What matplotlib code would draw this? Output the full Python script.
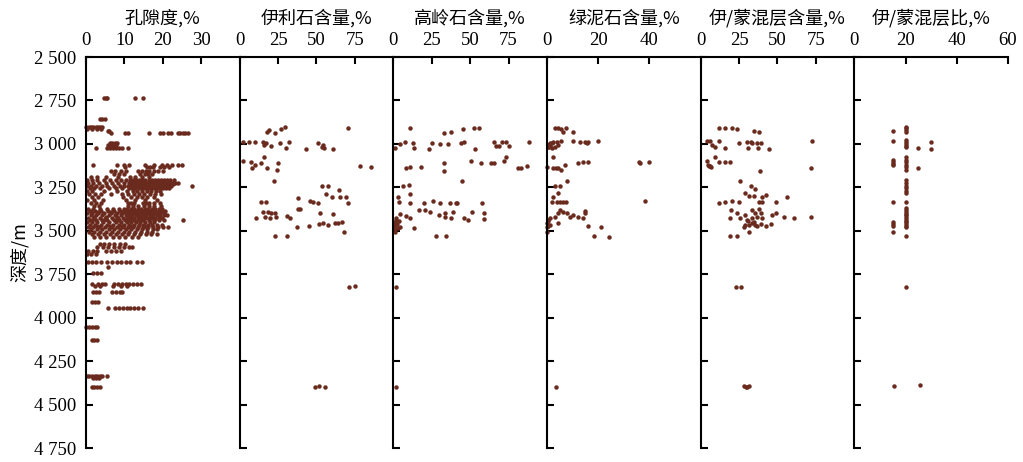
import matplotlib.pyplot as plt
from matplotlib.ticker import FuncFormatter

plt.rcParams['font.family'] = ['Liberation Serif', 'DejaVu Serif']

titles = ['孔隙度,%', '伊利石含量,%', '高岭石含量,%', '绿泥石含量,%', '伊/蒙混层含量,%', '伊/蒙混层比,%']
x_max = [40, 100, 100, 60, 100, 60]
x_ticks = [[0, 10, 20, 30], [0, 25, 50, 75], [0, 25, 50, 75], [0, 20, 40], [0, 25, 50, 75], [0, 20, 40, 60]]
depth_ticks = [2500, 2750, 3000, 3250, 3500, 3750, 4000, 4250, 4500, 4750]

# porosity: one row per depth (m) with the porosity readings (%) at that depth
por_rows = [
    (2735, [4.6, 5.1, 5.6, 12.8, 14.9]),
    (2855, [3.7, 4.3, 4.9]),
    (2905, [0.1, 0.7, 1.3, 1.9, 2.5, 3.1, 3.7, 4.2]),
    (2915, [0.3, 1.6, 2.9, 3.9]),
    (2925, [5.7, 6.1]),
    (2935, [6.6, 10.1, 10.9, 16.5, 19.4, 20.1, 21.4, 22.2, 23.9, 24.5, 25.2, 25.9, 26.6]),
    (2992, [6.3, 6.9, 7.6, 8.2]),
    (3005, [5.8, 6.5, 7.3, 7.9]),
    (3022, [2.5, 5.6, 6.3, 7.0, 7.7, 8.6, 9.5, 10.9]),
    (3120, [1.8, 8.0, 9.8, 11.2, 15.3, 17.6, 19.9, 21.0, 22.4, 24.0, 25.1]),
    (3135, [10.2, 15.8, 16.6, 17.5, 19.3, 20.2, 21.6]),
    (3155, [6.4, 7.6, 9.0, 10.3, 13.6, 14.5, 15.6, 16.5, 17.6, 18.8, 20.0]),
    (3172, [7.2, 8.6, 9.8, 14.1, 15.3, 16.2, 17.2]),
    (3190, [1.2, 3.0, 5.2, 8.4, 11.6, 12.8, 14.6, 16.4]),
    (3210, [0.3, 1.5, 2.8, 4.6, 6.2, 7.8, 9.2, 10.5, 11.5, 12.3, 13.1, 13.9, 14.7, 15.5, 16.3, 17.1, 17.9, 18.7, 19.5, 20.3, 21.1, 21.9, 22.8]),
    (3218, [11.9, 13.5, 15.1, 16.7, 18.3, 19.9, 21.5]),
    (3225, [0.6, 1.9, 3.4, 5.1, 6.8, 8.4, 9.9, 11.1, 11.9, 12.7, 13.5, 14.3, 15.1, 15.9, 16.7, 17.5, 18.3, 19.1, 19.9, 20.7, 21.5, 22.3, 23.2, 24.0]),
    (3232, [11.5, 13.1, 14.7, 16.3, 17.9, 19.5, 21.1, 22.7]),
    (3240, [0.2, 1.3, 2.5, 4.2, 5.6, 7.3, 8.8, 10.0, 10.9, 11.7, 12.5, 13.3, 14.1, 14.9, 15.7, 16.5, 17.3, 18.1, 18.9, 19.7, 20.5, 21.3, 22.1, 27.6]),
    (3248, [12.1, 13.7, 15.3, 16.9, 18.5, 20.1]),
    (3255, [1.0, 2.2, 3.6, 6.1, 7.9, 9.4, 11.3, 12.1, 12.9, 13.7, 14.5, 15.3, 16.1, 16.9, 17.7, 18.5, 19.3, 20.1, 20.9, 21.7]),
    (3270, [0.4, 1.7, 4.7, 8.1, 10.6, 12.2, 13.4, 14.6, 15.8, 17.0, 18.2, 19.4]),
    (3290, [0.9, 2.3, 3.9, 6.6, 9.5, 11.0, 12.4, 13.9, 15.2, 16.6, 18.0, 19.6]),
    (3305, [1.5, 3.1, 9.7, 11.8, 13.2, 14.7, 16.0, 17.6]),
    (3322, [0.3, 2.0, 4.4, 10.4, 12.7, 15.5, 18.4]),
    (3340, [1.3, 2.6, 3.9, 11.0, 11.8, 12.6, 14.8, 15.6, 16.4, 17.8, 19.2]),
    (3355, [2.2, 3.5, 10.9, 12.2, 13.6, 15.0, 16.3, 17.7, 19.6]),
    (3372, [0.5, 1.8, 3.6, 5.4, 7.0, 8.5, 9.8, 10.8, 11.7, 12.6, 13.5, 14.4, 15.3, 16.2, 17.1, 18.0, 18.9, 19.8]),
    (3385, [1.0, 2.4, 4.0, 5.7, 7.3, 8.8, 10.0, 10.9, 11.8, 12.7, 13.6, 14.5, 15.4, 16.3, 17.2, 18.1, 19.0, 19.9, 20.5]),
    (3392, [3.1, 6.5, 9.4, 12.3, 15.0, 17.7]),
    (3398, [0.4, 1.6, 3.2, 4.8, 6.4, 8.0, 9.3, 10.4, 11.3, 12.2, 13.1, 14.0, 14.9, 15.8, 16.7, 17.6, 18.5, 19.4, 20.3]),
    (3412, [1.2, 2.7, 4.3, 5.9, 7.5, 9.0, 10.3, 11.2, 12.1, 13.0, 13.9, 14.8, 15.7, 16.6, 17.5, 18.4, 19.3, 20.2, 21.0]),
    (3418, [2.0, 5.1, 8.2, 11.6, 14.3, 17.0]),
    (3425, [0.6, 2.0, 3.6, 5.2, 6.8, 8.3, 9.7, 10.8, 11.7, 12.6, 13.5, 14.4, 15.3, 16.2, 17.1, 18.0, 18.9, 19.8]),
    (3432, [1.8, 4.9, 8.0, 11.5, 14.6, 17.9]),
    (3440, [1.1, 2.5, 4.1, 5.6, 7.2, 8.7, 10.1, 11.2, 12.4, 13.6, 14.9, 16.3, 17.6, 19.0, 20.4, 25.3]),
    (3452, [0.3, 1.5, 2.9, 4.5, 6.1, 7.7, 9.2, 10.6, 11.8, 13.0, 14.2, 15.4, 16.6, 17.8]),
    (3465, [1.0, 2.3, 3.8, 5.4, 7.0, 8.6, 10.0, 11.3, 12.5, 13.7, 14.9, 16.1, 17.3, 18.5, 19.7]),
    (3472, [3.0, 6.2, 9.3, 12.0, 15.5]),
    (3478, [0.5, 1.9, 3.4, 4.9, 6.5, 8.1, 9.6, 11.0, 12.3, 13.6, 14.9, 16.2, 17.5, 18.8, 20.1, 21.3]),
    (3492, [1.3, 2.8, 4.3, 5.9, 7.4, 8.9, 10.4, 11.8, 13.2, 14.6, 16.0, 17.4, 18.6]),
    (3505, [0.8, 2.2, 3.7, 5.2, 6.7, 8.3, 9.8, 11.3, 12.8, 14.3, 15.8, 17.2]),
    (3520, [1.6, 3.1, 4.6, 6.2, 7.8, 9.4, 11.0, 12.5, 14.1, 15.6, 17.0, 18.4]),
    (3535, [2.0, 3.6, 5.3, 7.0, 8.6, 10.2, 11.9, 13.5]),
    (3575, [3.7, 4.8, 6.0, 7.4, 8.8, 10.1]),
    (3595, [3.0, 4.4, 5.8, 7.2, 8.5, 9.8, 11.1, 12.0]),
    (3615, [0.6, 1.8, 3.0, 5.3, 6.6, 7.9, 9.2]),
    (3635, [0.2, 1.4, 2.6]),
    (3682, [0.5, 1.5, 2.6, 3.8, 5.6, 6.8, 8.0, 9.2, 10.4, 11.6, 13.4, 14.6]),
    (3710, [5.7]),
    (3745, [1.8, 2.8, 3.9]),
    (3805, [1.6, 3.2, 4.1, 4.9, 7.3, 8.3, 9.3, 10.3, 11.3, 12.3, 13.3, 14.4]),
    (3820, [2.4, 3.6, 7.0, 9.0, 10.6]),
    (3855, [1.8, 2.7, 3.5, 6.8, 7.9, 8.9, 9.4]),
    (3912, [1.6, 2.3, 3.1]),
    (3945, [5.7, 7.6, 8.6, 9.6, 10.6, 11.6, 12.6, 13.6, 14.8]),
    (4055, [0.1, 0.8, 1.5, 2.3, 2.8]),
    (4130, [1.5, 2.2, 2.8]),
    (4335, [0.2, 0.9, 1.6, 2.3, 3.0, 3.6, 4.1, 5.4]),
    (4345, [1.8, 2.6, 3.4]),
    (4400, [1.5, 2.2, 2.9, 3.6]),
]
por_d = [d for d, vals in por_rows for v in vals]
por_v = [v for d, vals in por_rows for v in vals]

# illite content
ill = [(2920, 19.0), (2933, 18.0), (2935, 22.9), (2916, 27.2), (2905, 29.4), (2910, 70.4),
       (2987, 2.2), (2987, 6.1), (2987, 9.8), (2987, 15.2), (2993, 17.4), (3006, 15.9), (3012, 20.3),
       (2993, 26.1), (2987, 32.2), (3022, 30.1), (3031, 43.1), (2993, 51.2), (3006, 54.0), (3025, 54.9),
       (3016, 53.4), (3031, 61.0), (3099, 2.2), (3103, 7.6), (3122, 9.8), (3137, 8.3), (3112, 14.2),
       (3074, 15.9), (3141, 18.1), (3112, 25.0), (3150, 24.6), (3127, 78.4), (3135, 85.6), (3214, 22.4),
       (3242, 53.4), (3242, 57.3), (3288, 56.0), (3304, 59.9), (3265, 64.7), (3304, 65.4), (3304, 69.3),
       (3338, 70.8), (3310, 38.1), (3336, 14.2), (3336, 17.4), (3329, 45.8), (3333, 47.9), (3338, 51.2),
       (3376, 38.1), (3376, 39.2), (3394, 15.2), (3390, 18.5), (3400, 20.7), (3400, 22.9), (3419, 16.3),
       (3428, 19.6), (3422, 23.9), (3428, 10.5), (3415, 30.6), (3428, 32.7), (3400, 52.3), (3405, 61.0),
       (3461, 51.8), (3457, 54.0), (3467, 57.7), (3453, 62.1), (3457, 64.3), (3450, 66.4), (3505, 68.2),
       (3480, 37.4), (3473, 45.1), (3530, 22.9), (3530, 30.6), (3822, 70.9), (3820, 75.2),
       (4397, 49.0), (4392, 51.6), (4397, 55.6)]

# kaolinite content
kao = [(2910, 11.1), (2935, 32.9), (2930, 37.7), (2916, 45.5), (2910, 52.5), (2910, 55.8),
       (3025, 0.9), (3001, 4.6), (2987, 7.8), (2993, 12.9), (3025, 13.3), (3031, 23.1), (2993, 25.3),
       (3002, 30.7), (3002, 35.8), (2993, 43.8), (2989, 46.0), (3031, 52.9), (2987, 65.6), (3012, 66.7),
       (3012, 68.8), (2987, 71.0), (2987, 73.2), (3012, 75.4), (2987, 88.4),
       (3137, 8.5), (3131, 11.1), (3131, 18.3), (3108, 32.9), (3156, 32.9), (3099, 50.3), (3112, 57.3),
       (3108, 63.4), (3108, 65.6), (3099, 72.1), (3077, 73.2), (3137, 80.9), (3137, 83.0), (3127, 86.7),
       (3214, 44.9), (3242, 6.3), (3237, 10.0), (3304, 3.1), (3290, 11.1),
       (3333, 3.5), (3342, 11.1), (3338, 19.8), (3329, 25.9), (3338, 30.7), (3338, 36.8), (3338, 40.5),
       (3342, 41.6), (3342, 57.9), (3380, 16.5), (3380, 20.9), (3394, 23.7), (3407, 29.6), (3400, 33.5),
       (3419, 33.5), (3428, 37.3), (3394, 39.0), (3426, 45.9), (3436, 48.6), (3394, 51.4), (3400, 59.0),
       (3433, 59.0), (3485, 13.3), (3413, 8.5), (3426, 11.1), (3403, 4.6), (3426, 2.0), (3461, 2.4),
       (3476, 4.1), (3490, 1.3), (3442, 3.5), (3450, 0.8), (3465, 1.2), (3475, 0.5), (3495, 0.3),
       (3505, 1.0), (3440, 1.6), (3485, 2.8), (3530, 28.1), (3530, 34.0), (3822, 1.5), (4400, 1.6)]

# chlorite content
chl = [(2910, 3.1), (2910, 4.4), (2916, 5.4), (2933, 6.2), (2910, 7.5), (2930, 10.3),
       (3016, 0.5), (2997, 1.2), (2987, 2.5), (2987, 3.8), (3006, 4.4), (2984, 5.4), (3025, 1.8),
       (3016, 3.1), (3005, 0.3), (3010, 1.0), (3020, 0.8), (2992, 2.0),
       (2984, 10.3), (2991, 12.9), (2987, 14.9), (2993, 15.6), (2991, 16.2), (2984, 20.1),
       (3077, 2.5), (3112, 12.3), (3103, 14.2), (3106, 16.2), (3131, 0.0), (3137, 2.5), (3141, 4.4),
       (3150, 5.4), (3122, 7.1), (3137, 3.4), (3103, 35.8), (3106, 39.7), (3112, 36.2),
       (3214, 7.7), (3242, 5.1), (3242, 3.1), (3284, 4.4), (3304, 2.5), (3333, 1.8), (3333, 3.8),
       (3333, 5.1), (3336, 6.4), (3336, 7.5), (3329, 38.4), (3380, 5.1), (3390, 6.4), (3400, 7.7),
       (3409, 10.3), (3419, 12.3), (3428, 14.2), (3400, 14.9), (3384, 14.9), (3419, 9.0), (3400, 4.4),
       (3438, 0.5), (3457, 0.0), (3473, 0.5), (3428, 1.2), (3422, 3.1), (3457, 4.4), (3445, 0.3),
       (3465, 1.0), (3480, 0.2), (3473, 16.2), (3480, 21.2), (3528, 18.2), (3534, 24.4), (3505, 0.1),
       (4400, 3.5)]

# illite/smectite mixed layer content
ism = [(2910, 11.8), (2910, 15.7), (2910, 20.5), (2916, 23.7), (2926, 34.6), (2933, 37.9),
       (2982, 4.1), (2982, 6.3), (3006, 7.4), (3016, 9.6), (2982, 11.8), (3025, 15.7), (2993, 24.8),
       (2987, 30.3), (3025, 30.9), (2987, 32.5), (2993, 33.5), (2997, 36.8), (3025, 37.4), (2997, 39.0),
       (3031, 44.4), (2982, 72.7), (3099, 4.1), (3127, 5.2), (3131, 7.0), (3074, 9.2), (3103, 11.8),
       (3106, 16.1), (3106, 19.4), (3154, 38.4), (3137, 71.7), (3120, 4.6), (3125, 6.0),
       (3214, 25.9), (3240, 33.1), (3261, 35.7), (3284, 29.2), (3299, 31.8), (3299, 34.6), (3304, 39.7),
       (3294, 42.3), (3333, 49.2), (3307, 56.4), (3342, 11.8), (3333, 16.1), (3329, 20.5), (3336, 24.8),
       (3336, 37.9), (3336, 39.7), (3381, 20.0), (3400, 23.7), (3428, 25.9), (3409, 29.2), (3438, 30.3),
       (3381, 33.5), (3400, 35.3), (3376, 37.9), (3396, 39.0), (3428, 33.5), (3419, 36.8), (3428, 40.1),
       (3409, 46.6), (3396, 49.2), (3423, 54.2), (3428, 60.8), (3423, 71.7), (3467, 29.2), (3457, 33.5),
       (3467, 35.7), (3461, 39.0), (3473, 42.3), (3461, 45.5), (3428, 19.4), (3477, 28.1), (3509, 31.4),
       (3530, 19.4), (3528, 23.7), (3445, 31.0), (3450, 34.5), (3470, 37.0), (3465, 31.5),
       (3822, 22.9), (3822, 26.1), (4392, 28.5), (4398, 30.0), (4395, 31.5), (4400, 29.3)]

# illite/smectite mixed layer ratio
isr = [(2900, 20), (2910, 20), (2920, 20), (2930, 20), (2978, 20), (2990, 20), (3000, 20), (3010, 20),
       (3020, 20), (3075, 20), (3090, 20), (3105, 20), (3120, 20), (3135, 20), (3150, 20), (3210, 20),
       (3225, 20), (3240, 20), (3255, 20), (3270, 20), (3285, 20), (3333, 20), (3371, 20), (3381, 20),
       (3391, 20), (3401, 20), (3411, 20), (3421, 20), (3431, 20), (3441, 20), (3451, 20), (3461, 20),
       (3471, 20), (3481, 20), (3530, 20), (3822, 20.3),
       (2926, 15), (2982, 15), (3093, 15), (3105, 15), (3115, 15), (3122, 15), (3333, 15), (3448, 15),
       (3460, 15), (3473, 15), (3505, 15), (4395, 15.5),
       (3022, 24.8), (3141, 24.8), (2987, 29.8), (3031, 29.8), (4390, 25.5)]

panels = [list(zip(por_d, por_v)), ill, kao, chl, ism, isr]

fig, axes = plt.subplots(1, 6, sharey=True, figsize=(10.23, 4.62), dpi=100)
fig.subplots_adjust(left=0.084, right=0.9853, top=0.8766, bottom=0.0303, wspace=0)

for i, ax in enumerate(axes):
    pts = panels[i]
    ax.plot([p[1] for p in pts], [p[0] for p in pts], 'o', color='#6b2a1e', ms=3.2, mew=0, clip_on=False)
    ax.set_xlim(0, x_max[i])
    ax.set_xticks(x_ticks[i])
    ax.xaxis.tick_top()
    ax.spines['right'].set_visible(False)
    ax.spines['bottom'].set_visible(False)
    for s in ['left', 'top']:
        ax.spines[s].set_linewidth(1.5)
    ax.tick_params(axis='x', direction='in', length=5, width=1.5, pad=6, labelsize=13.5)
    ax.tick_params(axis='y', direction='in', length=5, width=1.5, pad=7, labelsize=13.5)
    ax.set_title(titles[i], fontsize=13, family=['Noto Sans CJK SC', 'DejaVu Sans'], pad=6)
    if i > 0:
        ax.tick_params(axis='y', labelleft=False)

axes[0].set_ylim(4750, 2500)
axes[0].set_yticks(depth_ticks)
axes[0].yaxis.set_major_formatter(FuncFormatter(lambda v, p: f'{v:,.0f}'.replace(',', ' ')))
axes[0].set_ylabel('深度/m', fontsize=13, family=['Noto Sans CJK SC', 'DejaVu Sans'], labelpad=4)

plt.savefig('out.png')
